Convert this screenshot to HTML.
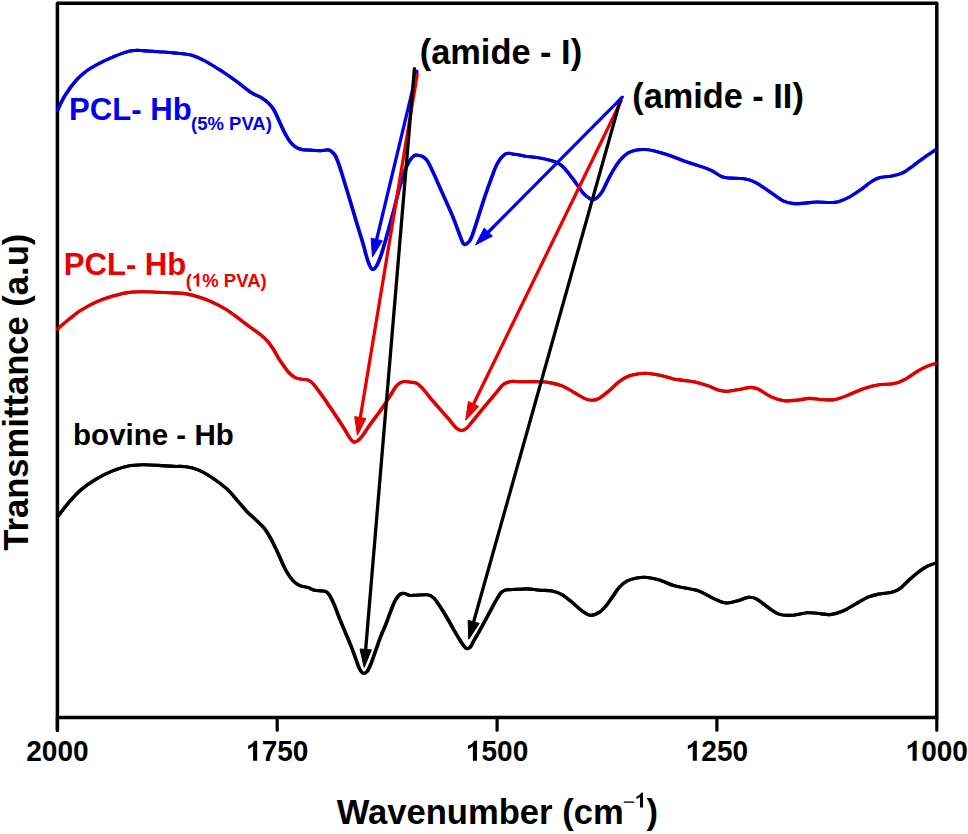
<!DOCTYPE html>
<html><head><meta charset="utf-8"><style>
html,body{margin:0;padding:0;background:#fff;}
svg{display:block;}
text{font-family:"Liberation Sans", sans-serif;font-weight:bold;}
</style></head><body>
<svg width="968" height="834" viewBox="0 0 968 834">
<rect width="968" height="834" fill="#fff"/>
<path d="M57.4,730.2 L57.4,3.3 L936.8,3.3 L936.8,717.5 L57.4,717.5" fill="none" stroke="#000" stroke-width="3.5" stroke-linejoin="round" stroke-linecap="round"/>
<line x1="57.4" y1="717.5" x2="57.4" y2="730.2" stroke="#000" stroke-width="3.2" stroke-linecap="round"/><text transform="translate(57.4,760.7) scale(1,1.04)" text-anchor="middle" font-size="28">2000</text><line x1="277.2" y1="717.5" x2="277.2" y2="730.2" stroke="#000" stroke-width="3.2" stroke-linecap="round"/><text transform="translate(277.2,760.7) scale(1,1.04)" text-anchor="middle" font-size="28"><tspan fill="transparent">1</tspan>750</text><polygon points="257.13,760.70 257.13,740.65 254.50,740.65 253.66,742.08 251.70,744.04 248.15,745.86 248.15,749.16 250.58,748.04 253.05,746.36 253.05,760.70" fill="#000"/><line x1="497.1" y1="717.5" x2="497.1" y2="730.2" stroke="#000" stroke-width="3.2" stroke-linecap="round"/><text transform="translate(497.1,760.7) scale(1,1.04)" text-anchor="middle" font-size="28"><tspan fill="transparent">1</tspan>500</text><polygon points="476.98,760.70 476.98,740.65 474.35,740.65 473.51,742.08 471.55,744.04 468.00,745.86 468.00,749.16 470.43,748.04 472.90,746.36 472.90,760.70" fill="#000"/><line x1="716.9" y1="717.5" x2="716.9" y2="730.2" stroke="#000" stroke-width="3.2" stroke-linecap="round"/><text transform="translate(716.9,760.7) scale(1,1.04)" text-anchor="middle" font-size="28"><tspan fill="transparent">1</tspan>250</text><polygon points="696.83,760.70 696.83,740.65 694.20,740.65 693.36,742.08 691.40,744.04 687.85,745.86 687.85,749.16 690.28,748.04 692.75,746.36 692.75,760.70" fill="#000"/><line x1="936.8" y1="717.5" x2="936.8" y2="730.2" stroke="#000" stroke-width="3.2" stroke-linecap="round"/><text transform="translate(936.8,760.7) scale(1,1.04)" text-anchor="middle" font-size="28"><tspan fill="transparent">1</tspan>000</text><polygon points="916.68,760.70 916.68,740.65 914.05,740.65 913.21,742.08 911.25,744.04 907.70,745.86 907.70,749.16 910.13,748.04 912.60,746.36 912.60,760.70" fill="#000"/>
<defs>
<path id="cb" d="M57.7,110.0 C58.5,108.2 61.1,102.5 62.7,99.5 C64.3,96.5 65.9,94.2 67.5,91.8 C69.1,89.4 70.5,87.3 72.3,85.1 C74.0,82.9 76.1,80.4 78.0,78.4 C79.9,76.4 81.7,74.8 83.8,73.1 C85.9,71.4 88.1,69.8 90.5,68.3 C92.9,66.8 95.7,65.4 98.2,64.0 C100.8,62.6 103.2,61.3 105.8,60.1 C108.3,58.9 110.8,57.9 113.5,56.8 C116.2,55.7 119.4,54.4 122.1,53.4 C124.8,52.4 127.5,51.5 129.8,51.0 C132.1,50.5 133.8,50.5 136.0,50.4 C138.2,50.3 139.2,50.4 143.0,50.6 C146.8,50.8 153.3,51.3 158.5,51.7 C163.7,52.1 168.3,52.3 174.0,52.9 C179.7,53.5 187.3,54.0 192.5,55.4 C197.7,56.8 200.3,58.5 205.0,61.0 C209.7,63.5 215.2,67.0 220.4,70.3 C225.6,73.6 230.9,77.3 236.0,81.0 C241.1,84.7 246.5,89.6 250.8,92.4 C255.1,95.2 258.7,96.1 261.6,97.8 C264.5,99.5 266.0,100.8 268.0,102.7 C270.0,104.6 271.8,106.6 273.4,109.1 C275.0,111.6 276.4,114.7 277.8,117.8 C279.2,120.9 280.7,124.5 282.1,127.5 C283.5,130.6 285.0,133.6 286.4,136.1 C287.8,138.6 289.1,140.7 290.7,142.6 C292.3,144.5 294.1,146.2 296.1,147.4 C298.1,148.6 300.3,149.2 302.6,149.6 C304.9,150.0 307.1,149.9 310.1,150.1 C313.2,150.3 318.2,150.7 320.9,150.7 C323.6,150.7 324.8,150.1 326.3,150.0 C327.8,149.9 328.6,149.6 330.0,150.4 C331.4,151.2 333.5,152.6 335.0,155.1 C336.5,157.6 337.8,161.3 339.2,165.2 C340.6,169.1 341.8,173.6 343.4,178.6 C344.9,183.6 346.8,189.8 348.5,195.4 C350.2,201.0 351.8,206.5 353.5,212.1 C355.2,217.7 356.8,223.3 358.5,228.9 C360.2,234.5 362.1,240.4 363.6,245.7 C365.2,251.0 366.4,256.9 367.8,260.8 C369.2,264.7 370.6,268.2 372.0,269.2 C373.4,270.2 374.7,268.7 376.1,266.7 C377.5,264.7 378.9,261.2 380.3,257.4 C381.7,253.6 383.1,248.8 384.5,244.0 C385.9,239.2 387.1,234.5 388.7,228.9 C390.2,223.3 392.1,216.9 393.8,210.5 C395.5,204.1 397.1,196.5 398.8,190.3 C400.5,184.2 402.1,178.3 403.8,173.6 C405.5,168.8 407.2,164.8 408.9,161.8 C410.6,158.8 412.5,156.9 414.0,155.8 C415.5,154.7 416.4,155.1 417.9,155.3 C419.4,155.5 421.5,155.8 423.2,156.9 C424.9,158.0 425.9,158.2 428.1,162.0 C430.3,165.8 433.6,173.6 436.4,179.6 C439.1,185.6 441.9,192.0 444.6,198.2 C447.4,204.4 450.5,211.0 452.9,216.8 C455.3,222.7 457.3,228.8 459.1,233.3 C460.9,237.8 462.1,242.2 463.5,243.8 C464.9,245.5 466.1,244.3 467.4,243.2 C468.7,242.1 469.8,241.5 471.5,237.4 C473.2,233.3 475.7,225.0 477.7,218.8 C479.7,212.6 482.0,205.2 483.7,200.0 C485.4,194.8 486.6,191.5 488.0,187.5 C489.4,183.5 491.1,179.2 492.3,176.0 C493.5,172.8 494.2,170.3 495.2,168.0 C496.2,165.7 497.0,164.1 498.1,162.3 C499.2,160.5 500.5,158.7 501.7,157.3 C502.9,155.9 504.1,154.7 505.3,154.0 C506.5,153.3 507.7,153.3 508.9,153.3 C510.1,153.3 510.9,153.8 512.5,154.0 C514.0,154.2 516.1,154.3 518.2,154.7 C520.3,155.1 522.3,155.8 525.0,156.2 C527.7,156.6 531.6,156.8 534.5,157.2 C537.4,157.6 539.0,157.8 542.4,158.6 C545.8,159.3 551.5,160.5 554.8,161.7 C558.1,162.9 559.7,163.8 562.2,166.0 C564.7,168.2 567.2,171.6 569.7,174.7 C572.2,177.8 574.8,181.5 577.1,184.6 C579.4,187.7 581.2,191.0 583.3,193.3 C585.4,195.6 587.6,197.3 589.5,198.3 C591.4,199.3 592.4,200.3 594.5,199.3 C596.6,198.3 599.6,195.4 601.9,192.1 C604.2,188.8 606.0,183.6 608.1,179.7 C610.2,175.8 612.2,171.8 614.3,168.5 C616.4,165.2 618.2,162.4 620.5,159.8 C622.8,157.2 625.2,154.7 627.9,153.0 C630.6,151.3 633.8,150.5 636.6,149.9 C639.5,149.3 642.2,149.4 645.0,149.5 C647.8,149.6 649.7,149.8 653.6,150.7 C657.5,151.6 663.5,153.3 668.4,155.0 C673.3,156.7 678.3,158.9 683.3,160.7 C688.3,162.5 693.6,164.0 698.2,165.6 C702.8,167.2 707.1,168.5 711.1,170.4 C715.1,172.3 718.9,175.5 722.1,176.8 C725.3,178.1 726.8,177.8 730.5,178.1 C734.2,178.4 740.1,178.0 744.3,178.7 C748.4,179.4 751.2,180.2 755.4,182.3 C759.5,184.4 764.6,188.3 769.2,191.4 C773.8,194.5 779.0,198.8 783.1,200.8 C787.2,202.8 790.4,203.2 794.1,203.6 C797.8,204.0 801.5,203.4 805.2,203.1 C808.9,202.8 812.1,202.1 816.3,202.0 C820.4,201.9 826.4,202.6 830.1,202.5 C833.8,202.4 835.2,202.6 838.4,201.7 C841.6,200.8 845.8,199.0 849.5,197.0 C853.2,195.0 856.9,192.4 860.6,189.8 C864.3,187.2 868.4,183.5 871.6,181.5 C874.8,179.5 876.8,178.5 880.0,177.6 C883.2,176.7 887.3,176.9 891.0,176.2 C894.7,175.5 898.4,174.9 902.1,173.2 C905.8,171.4 909.5,168.3 913.2,165.7 C916.9,163.1 920.6,160.0 924.3,157.4 C928.0,154.8 933.5,151.2 935.3,149.9" stroke="#0000d8"/>
<path id="cr" d="M57.7,328.9 C59.5,327.3 64.7,322.7 68.6,319.6 C72.5,316.5 76.3,313.2 81.0,310.3 C85.7,307.4 91.3,304.2 96.5,301.9 C101.7,299.6 106.8,297.9 112.0,296.3 C117.2,294.8 122.3,293.4 127.5,292.6 C132.7,291.8 137.8,291.8 143.0,291.7 C148.2,291.6 153.3,292.1 158.5,292.3 C163.7,292.5 169.4,292.6 174.0,292.9 C178.6,293.2 182.2,293.2 186.3,293.9 C190.4,294.6 194.6,295.7 198.7,297.0 C202.8,298.3 206.4,299.5 211.1,301.6 C215.8,303.7 221.8,306.7 226.6,309.7 C231.4,312.7 236.2,316.8 240.0,319.6 C243.8,322.5 246.2,324.3 249.6,326.8 C253.0,329.3 257.4,332.2 260.4,334.6 C263.4,337.0 265.4,338.7 267.6,341.2 C269.8,343.7 271.8,346.8 273.6,349.6 C275.4,352.4 276.8,355.4 278.4,358.0 C280.0,360.6 281.4,362.7 283.2,365.2 C285.0,367.7 287.2,370.8 289.2,372.9 C291.2,375.0 293.0,376.6 295.2,377.7 C297.4,378.8 300.2,378.9 302.4,379.3 C304.6,379.7 306.5,379.4 308.3,380.1 C310.1,380.8 311.3,381.8 313.1,383.7 C314.9,385.6 317.1,388.8 319.1,391.5 C321.1,394.2 323.4,397.4 325.1,399.9 C326.9,402.4 327.2,403.0 329.6,406.5 C332.0,410.0 336.5,416.8 339.2,420.9 C341.9,425.0 344.1,428.5 345.9,431.4 C347.7,434.3 348.5,436.3 349.8,438.1 C351.1,439.9 352.3,441.5 353.6,442.0 C354.9,442.5 356.1,441.8 357.4,441.0 C358.7,440.2 359.5,439.4 361.3,437.2 C363.1,435.0 365.6,431.0 368.0,427.6 C370.4,424.2 373.1,420.5 375.7,417.0 C378.2,413.5 380.9,410.0 383.3,406.5 C385.7,403.0 388.0,399.2 390.1,395.9 C392.2,392.6 394.1,389.0 395.8,386.8 C397.6,384.6 399.2,383.4 400.6,382.5 C402.1,381.6 402.8,381.6 404.5,381.5 C406.2,381.4 408.8,381.9 410.9,382.2 C413.0,382.5 415.0,382.3 417.1,383.5 C419.2,384.7 420.9,386.6 423.3,389.3 C425.7,392.0 428.9,396.3 431.6,399.6 C434.4,402.9 437.1,405.8 439.8,408.9 C442.6,412.0 445.3,415.0 448.1,418.2 C450.9,421.4 454.2,426.1 456.4,428.2 C458.6,430.3 459.8,430.6 461.5,430.6 C463.2,430.6 464.4,430.3 466.7,428.2 C468.9,426.1 471.9,421.9 475.0,418.2 C478.1,414.5 481.9,409.9 485.3,405.8 C488.7,401.7 492.5,397.0 495.6,393.4 C498.7,389.8 501.1,386.1 503.9,384.1 C506.6,382.1 509.5,381.8 512.1,381.4 C514.8,381.0 515.6,381.6 519.8,381.7 C524.0,381.8 532.2,381.5 537.2,381.7 C542.2,381.9 545.5,381.9 549.6,382.6 C553.7,383.3 557.9,384.2 562.0,385.9 C566.1,387.6 570.7,390.5 574.4,392.6 C578.1,394.7 581.4,397.0 584.3,398.3 C587.2,399.6 589.2,400.3 591.7,400.3 C594.2,400.3 596.3,399.9 599.2,398.3 C602.1,396.7 605.8,393.6 609.1,390.8 C612.4,388.0 615.7,384.2 619.0,381.7 C622.3,379.2 625.6,377.3 628.9,376.0 C632.2,374.7 635.6,374.1 638.9,373.7 C642.2,373.3 645.1,373.2 648.8,373.5 C652.5,373.8 657.1,374.6 661.2,375.5 C665.3,376.4 669.9,378.1 673.6,378.9 C677.3,379.7 679.8,379.8 683.5,380.4 C687.2,380.9 691.8,381.3 695.9,382.2 C700.0,383.1 704.6,384.6 708.3,385.9 C712.0,387.2 714.9,389.2 718.2,390.1 C721.5,391.0 724.4,391.5 728.1,391.3 C731.8,391.1 736.7,389.9 740.5,389.2 C744.3,388.5 747.7,387.4 750.7,387.4 C753.7,387.4 755.0,387.6 758.4,389.2 C761.8,390.8 766.9,395.0 771.2,396.9 C775.5,398.8 779.8,400.1 784.1,400.7 C788.4,401.2 792.6,400.6 796.9,400.2 C801.2,399.8 805.4,398.5 809.7,398.4 C814.0,398.3 818.2,399.5 822.5,399.7 C826.8,399.9 831.0,400.2 835.3,399.4 C839.6,398.6 843.4,396.9 848.1,395.1 C852.8,393.3 858.4,390.4 863.5,388.7 C868.6,387.0 873.8,385.6 878.9,384.8 C884.0,384.0 889.9,384.5 894.2,383.6 C898.5,382.8 900.6,381.8 904.5,379.7 C908.4,377.6 913.5,373.6 917.3,371.3 C921.1,369.0 924.5,367.4 927.5,366.1 C930.5,364.8 933.9,364.0 935.2,363.6" stroke="#dd0000"/>
<path id="ck" d="M57.7,516.6 C59.5,514.3 64.7,507.2 68.6,502.7 C72.5,498.2 76.3,493.7 81.0,489.7 C85.7,485.7 91.3,481.9 96.5,478.8 C101.7,475.7 106.8,473.2 112.0,471.1 C117.2,469.0 122.3,467.2 127.5,466.2 C132.7,465.1 137.8,464.9 143.0,464.8 C148.2,464.7 153.3,465.1 158.5,465.4 C163.7,465.7 169.4,466.2 174.0,466.4 C178.6,466.6 182.2,466.1 186.3,466.7 C190.4,467.3 194.6,468.4 198.7,470.1 C202.8,471.8 206.4,473.9 211.1,477.0 C215.8,480.1 222.1,484.7 226.6,488.7 C231.1,492.7 234.5,497.3 237.9,501.2 C241.3,505.1 244.1,508.6 247.2,511.8 C250.3,515.0 253.5,517.5 256.4,520.3 C259.2,523.0 261.9,525.2 264.3,528.3 C266.7,531.4 268.9,535.3 270.9,538.8 C272.9,542.3 274.4,545.7 276.2,549.4 C278.0,553.1 279.8,557.5 281.5,561.2 C283.2,564.9 284.7,568.5 286.7,571.8 C288.7,575.1 291.1,578.7 293.3,581.0 C295.5,583.3 297.5,584.5 299.9,585.6 C302.3,586.7 305.4,586.6 307.8,587.4 C310.2,588.2 312.2,589.7 314.4,590.3 C316.6,590.9 319.1,590.7 321.0,590.9 C322.9,591.1 324.1,590.7 325.5,591.4 C326.9,592.1 328.2,593.1 329.6,595.3 C331.0,597.5 332.4,600.4 334.1,604.4 C335.8,608.4 337.9,614.5 339.8,619.2 C341.7,623.9 343.6,628.2 345.5,632.8 C347.4,637.3 349.5,642.1 351.2,646.5 C352.9,650.9 354.5,655.4 355.8,659.0 C357.1,662.6 358.0,665.7 359.2,668.1 C360.4,670.5 361.9,672.7 363.2,673.3 C364.5,673.9 365.9,673.0 367.1,671.6 C368.3,670.2 369.3,667.9 370.6,664.7 C371.9,661.5 373.4,656.9 375.1,652.2 C376.8,647.5 378.9,641.2 380.8,636.3 C382.7,631.4 384.8,627.0 386.5,622.6 C388.2,618.2 389.6,613.9 391.1,610.1 C392.6,606.3 394.1,602.5 395.6,599.8 C397.1,597.1 398.7,595.1 400.2,594.1 C401.7,593.1 403.2,593.3 404.7,593.5 C406.2,593.7 407.6,595.0 409.3,595.3 C411.0,595.6 412.0,595.4 415.0,595.3 C418.0,595.2 424.3,594.4 427.4,594.8 C430.5,595.2 431.5,596.0 433.6,597.9 C435.7,599.8 437.4,602.6 439.8,606.2 C442.2,609.8 445.6,615.3 448.1,619.6 C450.6,623.9 452.8,628.2 454.9,631.8 C457.0,635.4 459.1,638.9 460.7,641.4 C462.3,643.9 463.5,645.7 464.6,646.9 C465.7,648.1 466.4,648.8 467.3,648.8 C468.2,648.8 469.2,648.4 470.2,647.2 C471.2,646.0 471.7,644.7 473.3,641.8 C474.9,638.9 477.9,633.7 480.0,630.0 C482.1,626.3 483.9,622.9 485.8,619.4 C487.7,615.9 489.6,612.3 491.5,608.8 C493.4,605.3 495.7,601.0 497.3,598.3 C498.9,595.6 499.8,594.0 501.1,592.6 C502.4,591.2 503.6,590.6 505.0,590.1 C506.4,589.6 508.0,589.7 509.8,589.6 C511.6,589.5 513.1,589.5 516.0,589.4 C518.9,589.3 523.3,588.8 527.3,588.9 C531.2,589.0 535.6,589.9 539.7,590.2 C543.8,590.5 548.4,590.2 552.1,590.9 C555.8,591.6 558.7,592.7 562.0,594.6 C565.3,596.5 568.6,599.4 571.9,602.1 C575.2,604.8 578.7,608.5 581.8,610.7 C584.9,612.9 587.5,615.1 590.5,615.3 C593.5,615.5 596.8,613.9 599.5,612.1 C602.2,610.3 604.6,607.4 606.9,604.7 C609.2,602.0 611.0,598.9 613.1,596.0 C615.2,593.1 617.0,589.8 619.3,587.3 C621.6,584.8 623.9,582.6 626.8,581.1 C629.7,579.6 633.6,578.6 636.7,578.0 C639.8,577.4 641.7,577.0 645.4,577.3 C649.1,577.6 654.0,578.4 658.7,579.8 C663.4,581.2 669.5,584.2 673.6,585.5 C677.7,586.8 679.4,586.8 683.5,587.7 C687.6,588.6 693.9,589.3 698.4,590.9 C702.9,592.5 707.1,595.3 710.8,597.1 C714.5,598.9 717.9,600.6 720.7,601.6 C723.5,602.6 724.8,603.1 727.7,603.0 C730.6,602.9 734.5,601.6 737.9,600.7 C741.3,599.8 745.2,597.7 748.2,597.4 C751.2,597.1 752.9,597.3 755.9,598.7 C758.9,600.1 762.3,603.3 766.1,605.9 C769.9,608.5 774.6,612.5 778.9,614.1 C783.2,615.7 787.0,615.5 791.7,615.3 C796.4,615.1 802.8,613.1 807.1,612.8 C811.4,612.5 813.5,613.0 817.4,613.3 C821.2,613.6 825.9,615.0 830.2,614.6 C834.5,614.2 838.7,612.8 843.0,611.0 C847.3,609.2 851.5,606.1 855.8,603.8 C860.1,601.4 864.8,598.5 868.6,596.9 C872.5,595.3 875.0,594.9 878.9,594.1 C882.8,593.3 888.3,593.2 891.7,592.3 C895.1,591.4 896.3,591.0 899.3,588.9 C902.3,586.8 906.2,582.5 909.6,579.5 C913.0,576.5 916.8,573.2 919.8,571.0 C922.8,568.8 924.9,567.4 927.5,566.1 C930.1,564.8 933.9,563.8 935.2,563.3" stroke="#000"/>
</defs>
<g fill="none" stroke-width="3.1" stroke-linejoin="round" stroke-linecap="round">
<use href="#cb" x="-0.3"/><use href="#cb" x="0.3"/>
<use href="#cr" x="-0.3"/><use href="#cr" x="0.3"/>
<use href="#ck" x="-0.3"/><use href="#ck" x="0.3"/>
</g>
<line x1="417.0" y1="71.3" x2="376.2" y2="241.4" stroke="#0000f0" stroke-width="3.3" stroke-linecap="round"/><polygon points="372.5,257.0 371.1,238.2 382.3,240.8" fill="#0000f0" stroke="#0000f0" stroke-width="1" stroke-linejoin="round"/><line x1="417.2" y1="74.5" x2="360.0" y2="419.5" stroke="#ea0000" stroke-width="3.3" stroke-linecap="round"/><polygon points="357.4,435.3 354.7,416.6 366.0,418.5" fill="#ea0000" stroke="#ea0000" stroke-width="1" stroke-linejoin="round"/><line x1="414.4" y1="68.6" x2="365.5" y2="651.5" stroke="#000" stroke-width="3.3" stroke-linecap="round"/><polygon points="364.2,667.4 360.0,649.0 371.4,649.9" fill="#000" stroke="#000" stroke-width="1" stroke-linejoin="round"/><line x1="621.1" y1="101.0" x2="472.7" y2="405.8" stroke="#ea0000" stroke-width="3.3" stroke-linecap="round"/><polygon points="465.7,420.2 468.4,401.5 478.7,406.5" fill="#ea0000" stroke="#ea0000" stroke-width="1" stroke-linejoin="round"/><line x1="620.6" y1="99.1" x2="473.1" y2="623.8" stroke="#000" stroke-width="3.3" stroke-linecap="round"/><polygon points="468.8,639.2 468.1,620.3 479.2,623.4" fill="#000" stroke="#000" stroke-width="1" stroke-linejoin="round"/><line x1="622.3" y1="97.2" x2="486.9" y2="233.5" stroke="#0000f0" stroke-width="3.3" stroke-linecap="round"/><polygon points="475.6,244.8 484.2,228.0 492.4,236.1" fill="#0000f0" stroke="#0000f0" stroke-width="1" stroke-linejoin="round"/>
<text x="419.7" y="63.7" font-size="34.4">(amide - I)</text>
<text x="632.3" y="107.8" font-size="34.3">(amide - II)</text>
<text x="69.1" y="119.6" font-size="31.1" fill="#0000f0">PCL- Hb</text>
<text x="191" y="130.1" font-size="18.5" fill="#0000f0">(5% PVA)</text>
<text x="63.7" y="275.4" font-size="31.1" fill="#ea0000">PCL- Hb</text>
<text x="185.8" y="286.6" font-size="18.5" fill="#ea0000">(<tspan fill="transparent">1</tspan>% PVA)</text><polygon points="199.25,286.60 199.25,273.35 197.51,273.35 196.96,274.30 195.66,275.59 193.31,276.80 193.31,278.98 194.92,278.24 196.55,277.13 196.55,286.60" fill="#ea0000"/>
<text x="73.1" y="444.5" font-size="29.5">bovine - Hb</text>
<text transform="translate(27.6,550.7) rotate(-90)" x="0" y="0" font-size="34.6">Transmittance (a.u)</text>
<text x="336.7" y="823.9" font-size="34.6">Wavenumber (cm</text>
<rect x="623.9" y="801.4" width="10.3" height="1.5" fill="#222"/>
<polygon points="643.02,807.60 643.02,792.85 641.08,792.85 640.46,793.90 639.02,795.34 636.40,796.68 636.40,799.11 638.20,798.29 640.01,797.05 640.01,807.60" fill="#000"/>
<text x="646.5" y="824" font-size="34.6">)</text>
</svg>
</body></html>
